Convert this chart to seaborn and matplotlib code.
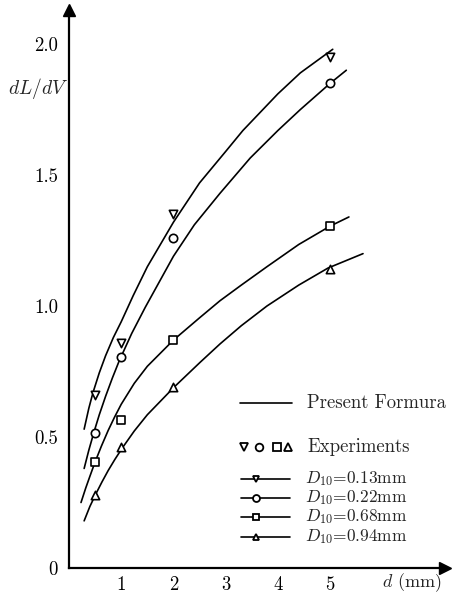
import matplotlib
matplotlib.use("Agg")
import matplotlib.pyplot as plt
from matplotlib.lines import Line2D
import seaborn as sns
import pandas as pd

# ---- data ----
exp_d = [0.5, 1, 2, 5]
exp_013 = [0.66, 0.86, 1.35, 1.95]
exp_022 = [0.515, 0.805, 1.26, 1.85]
exp_068 = [0.405, 0.565, 0.87, 1.305]
exp_094 = [0.28, 0.46, 0.69, 1.14]

cur_013_x = [0.29, 0.38, 0.46, 0.58, 0.7, 0.85, 1.0, 1.23, 1.5, 2.0, 2.5, 3.0, 3.33, 4.0, 4.43, 5.05]
cur_013_y = [0.53, 0.61, 0.67, 0.745, 0.81, 0.88, 0.94, 1.04, 1.15, 1.32, 1.47, 1.59, 1.67, 1.81, 1.89, 1.98]
cur_022_x = [0.29, 0.38, 0.48, 0.58, 0.7, 0.83, 0.96, 1.2, 1.46, 2.0, 2.4, 2.89, 3.47, 4.0, 4.43, 5.0, 5.31]
cur_022_y = [0.38, 0.45, 0.52, 0.585, 0.655, 0.725, 0.79, 0.895, 0.995, 1.19, 1.31, 1.43, 1.565, 1.67, 1.75, 1.85, 1.90]
cur_068_x = [0.23, 0.32, 0.4, 0.5, 0.62, 0.75, 0.87, 1.0, 1.25, 1.5, 2.0, 2.5, 2.89, 3.3, 3.79, 4.4, 5.0, 5.36]
cur_068_y = [0.25, 0.305, 0.35, 0.405, 0.465, 0.525, 0.575, 0.625, 0.705, 0.77, 0.87, 0.955, 1.02, 1.08, 1.15, 1.235, 1.305, 1.34]
cur_094_x = [0.29, 0.4, 0.52, 0.63, 0.75, 0.88, 1.02, 1.25, 1.5, 2.01, 2.51, 2.89, 3.3, 3.79, 4.4, 4.96, 5.63]
cur_094_y = [0.18, 0.235, 0.285, 0.328, 0.372, 0.415, 0.458, 0.523, 0.585, 0.69, 0.785, 0.855, 0.925, 1.0, 1.08, 1.145, 1.20]

y_ticks = [0, 0.5, 1.0, 1.5, 2.0]
y_tick_labels = ["0", "0.5", "1.0", "1.5", "2.0"]
x_ticks = [1, 2, 3, 4, 5]
x_tick_labels = ["1", "2", "3", "4", "5"]

series_labels = ["0.13", "0.22", "0.68", "0.94"]
series_markers = ["v", "o", "s", "^"]

sns.set_theme(style="white")
plt.rcParams["font.family"] = ["cmr10", "DejaVu Serif"]
plt.rcParams["mathtext.fontset"] = "cm"
plt.rcParams["axes.unicode_minus"] = False

W, H = 453, 593
fig = plt.figure(figsize=(W / 100, H / 100), dpi=100)
fig.patch.set_facecolor("white")
ax = fig.add_axes([69 / W, 1 - 568 / H, (445 - 69) / W, (568 - 10) / H])
ax.set_facecolor("white")

curves = [(cur_013_x, cur_013_y), (cur_022_x, cur_022_y),
          (cur_068_x, cur_068_y), (cur_094_x, cur_094_y)]
exps = [exp_013, exp_022, exp_068, exp_094]

for (cx, cy), ey, mk in zip(curves, exps, series_markers):
    df = pd.DataFrame({"d": cx, "v": cy})
    sns.lineplot(data=df, x="d", y="v", ax=ax, color="black", lw=1.2,
                 sort=False, estimator=None)
    de = pd.DataFrame({"d": exp_d, "v": ey})
    sns.scatterplot(data=de, x="d", y="v", ax=ax, marker=mk, s=36,
                    facecolor="white", edgecolor="black", linewidth=1.2, zorder=5)

ax.set_xlim(0, 7.2)
ax.set_ylim(0, 2.13)
ax.set_xticks(x_ticks)
ax.set_xticklabels(x_tick_labels)
ax.set_yticks(y_ticks)
ax.set_yticklabels(y_tick_labels)
ax.set_xlabel("")
ax.set_ylabel("")
for s in ["top", "right"]:
    ax.spines[s].set_visible(False)
for s in ["left", "bottom"]:
    ax.spines[s].set_color("black")
    ax.spines[s].set_linewidth(1.6)
ax.tick_params(axis="both", direction="in", length=4, width=1.2, colors="black",
               labelsize=13.5)
ax.tick_params(axis="x", pad=6)
ax.tick_params(axis="y", pad=8)

# arrow heads
ax.plot(1, 0, marker=">", color="black", markersize=9, transform=ax.transAxes, clip_on=False)
ax.plot(0, 1, marker="^", color="black", markersize=9, transform=ax.transAxes, clip_on=False)

def fx(px):
    return px / W

def fy(py):
    return 1 - py / H

# axis titles
fig.text(fx(38), fy(88), r"$dL/dV$", fontsize=14, ha="center", va="center")
fig.text(fx(442), fy(583), r"$d$ (mm)", fontsize=13, ha="right", va="center")

# legend (manual)
fs = 13.5
fig.add_artist(Line2D([fx(240), fx(292)], [fy(403), fy(403)], color="black", lw=1.2))
fig.text(fx(307), fy(403), "Present Formura", fontsize=fs, ha="left", va="center")

for mk, px in zip(series_markers, [244, 259, 277, 288]):
    fig.add_artist(Line2D([fx(px)], [fy(447)], marker=mk, markersize=5.5,
                          markerfacecolor="white", markeredgecolor="black",
                          markeredgewidth=1.3, linestyle="none"))
fig.text(fx(307), fy(447), "Experiments", fontsize=fs, ha="left", va="center")

for lab, mk, py in zip(series_labels, series_markers, [479, 498, 517, 537]):
    fig.add_artist(Line2D([fx(241), fx(290)], [fy(py), fy(py)], color="black", lw=1.2))
    fig.add_artist(Line2D([fx(256)], [fy(py)], marker=mk, markersize=5,
                          markerfacecolor="white", markeredgecolor="black",
                          markeredgewidth=1.3, linestyle="none"))
    fig.text(fx(305), fy(py), r"$D_{10}$" + "=" + lab + "mm", fontsize=12.5,
             ha="left", va="center")

fig.savefig("out.png", dpi=100, facecolor="white")
